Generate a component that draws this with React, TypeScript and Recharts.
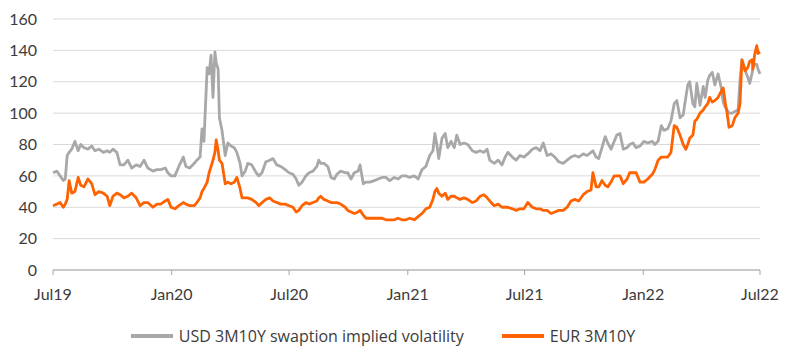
import React from "react";
import { LineChart, Line, XAxis, YAxis, CartesianGrid, Legend } from "recharts";

const BASE_DATE = "2019-07-01";

// day offsets from BASE_DATE
const days = [
  0, 6, 11, 16, 19, 22, 25, 29, 34, 39, 43, 48, 54, 60, 65, 71, 78, 84, 88, 93,
  99, 104, 110, 116, 122, 129, 135, 141, 147, 155, 161, 167, 174, 178, 183, 189, 195, 202, 206, 212,
  219, 223, 228, 231, 234, 239, 242, 245, 248, 251, 253, 256, 258, 262, 267, 271, 276, 281, 285, 290,
  293, 298, 302, 308, 315, 319, 324, 330, 336, 341, 347, 353, 360, 366, 372, 377, 381, 386, 392, 397,
  403, 409, 412, 415, 420, 426, 431, 436, 440, 446, 453, 457, 462, 467, 473, 476, 481, 485, 491, 498,
  504, 510, 516, 522, 529, 535, 541, 547, 553, 560, 566, 572, 578, 584, 589, 592, 595, 598, 603, 608,
  612, 617, 622, 626, 631, 637, 643, 650, 656, 662, 668, 673, 677, 684, 690, 696, 701, 705, 712, 718,
  724, 730, 736, 743, 749, 755, 760, 766, 772, 778, 784, 791, 797, 803, 809, 815, 822, 828, 834, 837,
  842, 846, 851, 856, 860, 865, 870, 874, 879, 884, 890, 894, 899, 904, 910, 916, 922, 929, 933, 938,
  943, 947, 953, 958, 963, 967, 972, 977, 981, 984, 987, 992, 995, 998, 1003, 1008, 1011, 1015, 1018, 1022,
  1026, 1031, 1036, 1039, 1042, 1045, 1048, 1053, 1057, 1062, 1065, 1068, 1073, 1077, 1080, 1084, 1085, 1088, 1091, 1093,
  1096,
];

const usdVol = [
  62, 63, 60, 57, 58, 73, 75, 77, 82, 76, 80, 78, 77, 79, 76, 77, 75, 76, 75, 77,
  75, 67, 67, 70, 65, 67, 66, 70, 65, 63, 64, 64, 65, 62, 60, 60, 66, 72, 66, 65,
  68, 70, 72, 90, 82, 129, 125, 137, 110, 139, 132, 128, 97, 89, 73, 81, 79, 78, 75, 68,
  60, 63, 68, 67, 62, 60, 62, 69, 70, 71, 67, 66, 64, 62, 61, 58, 54, 56, 60, 62,
  63, 66, 70, 68, 68, 66, 59, 58, 61, 63, 62, 62, 58, 62, 63, 67, 55, 56, 56, 57,
  58, 59, 59, 57, 59, 58, 60, 60, 59, 60, 58, 64, 66, 73, 76, 87, 80, 71, 84, 87,
  78, 82, 78, 86, 80, 81, 80, 76, 75, 76, 75, 77, 70, 68, 70, 67, 72, 75, 72, 70,
  73, 72, 74, 77, 78, 76, 81, 73, 74, 72, 69, 68, 70, 72, 73, 72, 74, 73, 75, 76,
  72, 71, 78, 85, 81, 77, 82, 86, 87, 77, 78, 80, 81, 78, 79, 82, 81, 82, 80, 82,
  92, 89, 90, 95, 106, 108, 97, 99, 110, 118, 120, 106, 104, 119, 105, 117, 110, 121, 124, 126,
  118, 125, 116, 107, 104, 102, 100, 100, 101, 102, 121, 134, 127, 123, 119, 126, 129, 131, 131, 128,
  125,
];

const eurVol = [
  41, 42, 43, 40, 42, 45, 57, 49, 50, 59, 54, 53, 58, 55, 48, 50, 49, 47, 41, 47,
  49, 48, 46, 47, 49, 46, 41, 43, 43, 40, 42, 42, 44, 45, 40, 39, 41, 43, 42, 41,
  41, 43, 46, 50, 52, 56, 62, 66, 70, 75, 83, 76, 70, 68, 55, 56, 55, 56, 59, 52,
  46, 46, 46, 45, 43, 41, 43, 45, 46, 44, 43, 42, 42, 41, 40, 37, 38, 41, 43, 42,
  43, 44, 46, 47, 45, 44, 43, 43, 43, 42, 40, 38, 37, 36, 37, 38, 35, 33, 33, 33,
  33, 33, 32, 32, 32, 33, 32, 32, 33, 32, 34, 36, 39, 40, 45, 50, 52, 49, 47, 49,
  45, 47, 47, 46, 45, 46, 45, 43, 44, 47, 48, 46, 44, 41, 42, 40, 40, 40, 39, 38,
  39, 39, 43, 40, 39, 39, 38, 38, 36, 37, 38, 38, 40, 44, 45, 44, 48, 50, 51, 62,
  53, 53, 57, 54, 53, 56, 60, 60, 60, 55, 58, 62, 62, 62, 56, 56, 58, 61, 64, 70,
  72, 72, 72, 75, 92, 91, 86, 80, 77, 80, 84, 86, 95, 96, 100, 102, 104, 106, 110, 107,
  108, 110, 114, 116, 107, 100, 91, 92, 97, 100, 106, 134, 127, 129, 133, 134, 128, 138, 143, 138,
  139,
];

const tickDates = ["2019-07-01", "2020-01-01", "2020-07-01", "2021-01-01", "2021-07-01", "2022-01-01", "2022-07-01"];
const tickLabels = ["Jul19", "Jan20", "Jul20", "Jan21", "Jul21", "Jan22", "Jul22"];
const yTicks = [0, 20, 40, 60, 80, 100, 120, 140, 160];

const seriesNames = ["USD 3M10Y swaption implied volatility", "EUR 3M10Y"];
const seriesColors = ["#a8a8a8", "#ff6200"];

const DAY_MS = 86400000;
const toDay = (d: string) => Math.round((Date.parse(d) - Date.parse(BASE_DATE)) / DAY_MS);
const xTicks = tickDates.map(toDay);
const labelFor = (v: number) => tickLabels[xTicks.indexOf(v)] ?? "";

const data = days.map((d, i) => ({ day: d, usd: usdVol[i], eur: eurVol[i] }));

const FONT = "Lato, 'Open Sans', sans-serif";
const LEGEND_FONT = "'Open Sans', Lato, sans-serif";
const TEXT = "#3c3c3c";

const LegendContent = () => (
  <div
    style={{
      display: "flex",
      justifyContent: "center",
      alignItems: "center",
      height: 20,
      fontFamily: LEGEND_FONT,
      fontSize: 16,
      color: TEXT,
      paddingLeft: 6,
    }}
  >
    {seriesNames.map((n, i) => (
      <div key={n} style={{ display: "flex", alignItems: "center", marginRight: i === 0 ? 38 : 0 }}>
        <div style={{ width: 42, height: 4, background: seriesColors[i], marginRight: 6 }} />
        <span>{n}</span>
      </div>
    ))}
  </div>
);

export default function App() {
  return (
    <div style={{ position: "absolute", left: 0, top: 0, width: 800, height: 358, background: "#fff" }}>
      <LineChart
        width={800}
        height={358}
        data={data}
        margin={{ top: 19, right: 40, left: 0, bottom: 12 }}
      >
        <CartesianGrid vertical={false} stroke="#d9d9d9" strokeWidth={1} />
        <XAxis
          dataKey="day"
          type="number"
          domain={[0, xTicks[xTicks.length - 1]]}
          ticks={xTicks}
          tickFormatter={labelFor}
          height={56}
          tickSize={5}
          tickMargin={14}
          axisLine={{ stroke: "#a6a6a6", strokeWidth: 1 }}
          tickLine={{ stroke: "#a6a6a6", strokeWidth: 1 }}
          tick={{ fill: TEXT, fontSize: 16, fontFamily: FONT }}
          interval={0}
        />
        <YAxis
          domain={[0, 160]}
          ticks={yTicks}
          width={53}
          tickSize={0}
          tickMargin={16}
          axisLine={false}
          tickLine={false}
          tick={{ fill: TEXT, fontSize: 16, fontFamily: FONT }}
          interval={0}
        />
        <Legend verticalAlign="bottom" height={20} content={<LegendContent />} />
        <Line
          type="linear"
          dataKey="usd"
          name={seriesNames[0]}
          stroke={seriesColors[0]}
          strokeWidth={2.8}
          dot={false}
          isAnimationActive={false}
          strokeLinejoin="round"
        />
        <Line
          type="linear"
          dataKey="eur"
          name={seriesNames[1]}
          stroke={seriesColors[1]}
          strokeWidth={2.8}
          dot={false}
          isAnimationActive={false}
          strokeLinejoin="round"
        />
      </LineChart>
    </div>
  );
}
